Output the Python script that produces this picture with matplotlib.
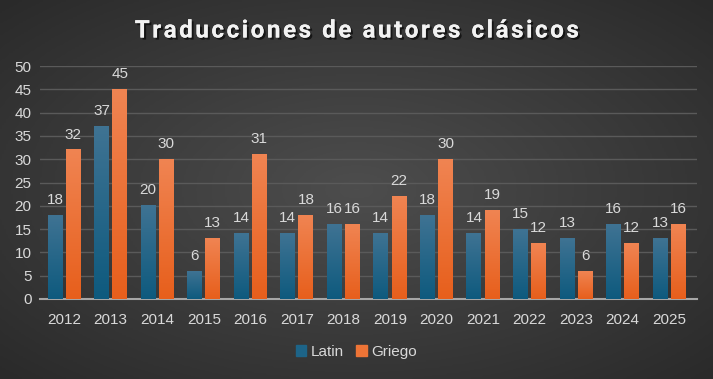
import numpy as np
import matplotlib
matplotlib.use("Agg")
import matplotlib.pyplot as plt
from matplotlib.colors import LinearSegmentedColormap
import matplotlib.patheffects as pe

years = ["2012", "2013", "2014", "2015", "2016", "2017", "2018",
         "2019", "2020", "2021", "2022", "2023", "2024", "2025"]
latin = [18, 37, 20, 6, 14, 14, 16, 14, 18, 14, 15, 13, 16, 13]
griego = [32, 45, 30, 13, 31, 18, 16, 22, 30, 19, 12, 6, 12, 16]

fig = plt.figure(figsize=(7.13, 3.79), dpi=100)

# fondo con degradado radial
bg = fig.add_axes([0, 0, 1, 1])
yy, xx = np.mgrid[-1:1:200j, -1:1:380j]
r = np.sqrt(xx ** 2 + yy ** 2) / np.sqrt(2)
bg_cmap = LinearSegmentedColormap.from_list("bg", ["#4d4d4d", "#2a2a2a"])
bg.imshow(r, cmap=bg_cmap, aspect="auto", extent=[0, 1, 0, 1])
bg.axis("off")

ax = fig.add_axes([40 / 713, 1 - 299 / 379, 657 / 713, 233 / 379])
ax.patch.set_alpha(0)

blue_cmap = LinearSegmentedColormap.from_list("b", ["#0e5a7e", "#3f7393"])
orange_cmap = LinearSegmentedColormap.from_list("o", ["#e75f1c", "#f08452"])

x = np.arange(len(years))
w = 0.32
off = 0.195
grad = np.linspace(0, 1, 100).reshape(-1, 1)
fnt = "Liberation Sans"

def gradient_bars(xs, vals, cmap):
    for xi, v in zip(xs, vals):
        ax.imshow(grad, cmap=cmap, origin="lower", aspect="auto",
                  extent=[xi - w / 2, xi + w / 2, 0, v], zorder=3)
        ax.annotate(str(v), (xi, v), xytext=(0, 6), textcoords="offset points",
                    ha="center", va="bottom", color="#d9d9d9", fontsize=11,
                    family=fnt)

gradient_bars(x - off, latin, blue_cmap)
gradient_bars(x + off, griego, orange_cmap)

ax.set_xlim(-0.52, 13.6)
ax.set_ylim(0, 50)
ax.set_yticks(range(0, 51, 5))
ax.set_xticks(x)
ax.set_xticklabels(years)
ax.grid(axis="y", color="#5a5a5a", linewidth=1)
ax.set_axisbelow(True)
for s in ["top", "right", "left"]:
    ax.spines[s].set_visible(False)
ax.spines["bottom"].set_color("#a6a6a6")
ax.spines["bottom"].set_linewidth(1.5)
ax.tick_params(length=0, colors="#d9d9d9", labelsize=11)
ax.tick_params(axis="x", pad=10)
ax.tick_params(axis="y", pad=6)
for lbl in ax.get_xticklabels() + ax.get_yticklabels():
    lbl.set_family(fnt)

# leyenda
h1 = plt.Rectangle((0, 0), 1, 1, color="#1d6488")
h2 = plt.Rectangle((0, 0), 1, 1, color="#ee7436")
fig.legend([h1, h2], ["Latin", "Griego"], loc="center", bbox_to_anchor=(0.5, 1 - 352 / 379),
           ncol=2, frameon=False, labelcolor="#d9d9d9",
           prop={"family": fnt, "size": 11},
           handlelength=0.7, handleheight=0.7, handletextpad=0.3, columnspacing=0.8)

titulo = "\u200a".join("Traducciones de autores clásicos")
fig.text(0.5, 1 - 31 / 379, titulo,
         ha="center", va="center", color="#f2f2f2", fontsize=17.5, fontweight="bold",
         family="Roboto",
         path_effects=[pe.withSimplePatchShadow(offset=(1.5, -1.5), shadow_rgbFace="black", alpha=0.6), pe.Normal()])

fig.savefig("out.png", dpi=100)
